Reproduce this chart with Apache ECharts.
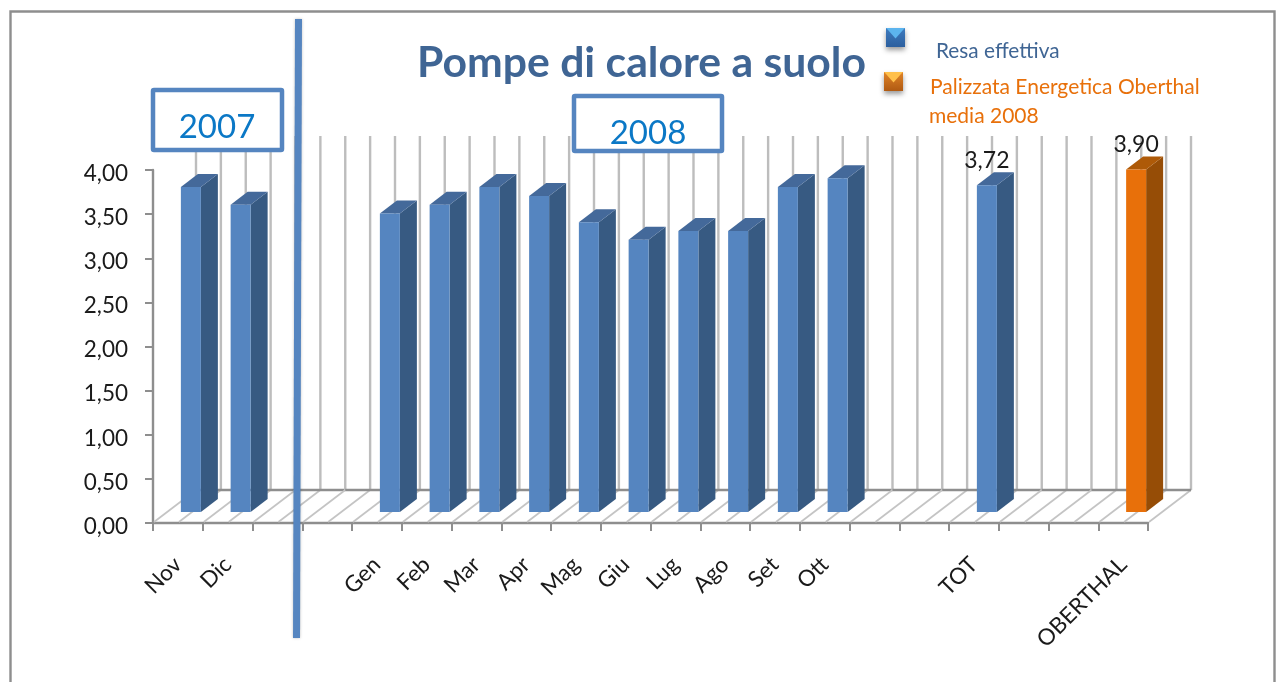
<!DOCTYPE html>
<html>
<head>
<meta charset="utf-8">
<style>html,body{margin:0;padding:0;background:#fff;overflow:hidden}#c{width:1276px;height:682px}</style>
<script src="https://cdn.jsdelivr.net/npm/echarts@6/dist/echarts.min.js"></script>
</head>
<body>
<div id="c"></div>
<script>
const categories = ['Nov','Dic','','','Gen','Feb','Mar','Apr','Mag','Giu','Lug','Ago','Set','Ott','','','TOT','','','OBERTHAL'];
const resaEffettiva = [3.70,3.50,null,null,3.40,3.50,3.70,3.60,3.30,3.10,3.20,3.20,3.70,3.80,null,null,3.72,null,null,null];
const palizzata = [null,null,null,null,null,null,null,null,null,null,null,null,null,null,null,null,null,null,null,3.90];
const labelled = {16:'3,72',19:'3,90'};
const yTicks = ['0,00','0,50','1,00','1,50','2,00','2,50','3,00','3,50','4,00'];
const FONT = 'Lato';
const FLOOR_DX = 43, FLOOR_DY = 33, BASE_DX = 13, BASE_DY = 11, DEPTH_DX = 17, DEPTH_DY = 13, BAR_W = 20, WALL_H = 354, SCALE = 0.995;
const WALL = '#BDBDBD', AXIS = '#8E8E8E';

function seg(x1,y1,x2,y2,color,w){return {type:'line',shape:{x1,y1,x2,y2},style:{stroke:color,lineWidth:w,fill:null},silent:true};}

function renderFurniture(params, api){
  const i = api.value(0);
  const c = api.coord([i,0]);
  const band = api.size([1,0])[0];
  const left = c[0]-band/2, y0 = c[1];
  const xs = [left, left+band/2];
  if(i===categories.length-1) xs.push(left+band);
  const ch=[];
  xs.forEach(x=>{
    ch.push(seg(x+FLOOR_DX,y0-FLOOR_DY,x+FLOOR_DX,y0-FLOOR_DY-WALL_H,WALL,2.4));
    ch.push(seg(x+1,y0-1,x+FLOOR_DX,y0-FLOOR_DY,'#C4C4C4',1.6));
  });
  ch.push(seg(left+FLOOR_DX,y0-FLOOR_DY,left+band+FLOOR_DX,y0-FLOOR_DY,AXIS,2.4));
  return {type:'group',children:ch};
}

function renderBar(colors){
  return function(params, api){
    const i = api.value(0), v = api.value(1);
    const c = api.coord([i,0]);
    const h = api.size([0,v])[1]*SCALE;
    const xl = c[0]+BASE_DX-BAR_W/2, xr = xl+BAR_W, yb = c[1]-BASE_DY, yt = yb-h;
    const poly=(pts,fill)=>({type:'polygon',shape:{points:pts},style:{fill}});
    const ch=[
      poly([[xr,yb],[xr,yt],[xr+DEPTH_DX,yt-DEPTH_DY],[xr+DEPTH_DX,yb-DEPTH_DY]],colors[1]),
      poly([[xl,yt],[xr,yt],[xr+DEPTH_DX,yt-DEPTH_DY],[xl+DEPTH_DX,yt-DEPTH_DY]],colors[2]),
      {type:'rect',shape:{x:xl,y:yt,width:BAR_W,height:h},style:{fill:colors[0]}}
    ];
    if(labelled[i]) ch.push({type:'text',style:{text:labelled[i],x:xl+BAR_W/2,y:yt-13,align:'center',verticalAlign:'bottom',font:'23px '+FONT,fill:'#1a1a1a'},z2:10});
    return {type:'group',children:ch};
  };
}

function toData(arr){const out=[];arr.forEach((v,i)=>{if(v!==null)out.push([i,v]);});return out;}

function box(x,y,w,h,label,tx,ty){
  return [
    {type:'rect',z:50,shape:{x,y,width:w,height:h,r:1},style:{fill:'#fff',stroke:'#5585C0',lineWidth:4.5}},
    {type:'text',z:51,style:{x:tx,y:ty,text:label,align:'center',verticalAlign:'middle',font:'33px '+FONT,fill:'#0B78C6'}}
  ];
}

function legendMark(x,y,s,dark,mid,light){
  return [
    {type:'rect',z:60,shape:{x,y,width:s,height:s},style:{fill:{type:'linear',x:0,y:0,x2:0,y2:1,colorStops:[{offset:0,color:mid},{offset:1,color:dark}]},shadowBlur:5,shadowColor:'rgba(0,0,0,.4)',shadowOffsetY:3}},
    {type:'polygon',z:61,shape:{points:[[x,y],[x+s,y],[x+s-2,y+2],[x+s/2,y+s*0.55],[x+2,y+2]]},style:{fill:light}}
  ];
}

const chart = echarts.init(document.getElementById('c'),null,{renderer:'canvas'});
chart.setOption({
  animation:false,
  backgroundColor:'#fff',
  grid:{left:153,top:170,width:995,height:353,containLabel:false},
  xAxis:{type:'category',data:categories,boundaryGap:true,
    axisLine:{lineStyle:{color:AXIS,width:2.4}},
    axisTick:{show:true,length:8,alignWithLabel:false,interval:0,lineStyle:{color:AXIS,width:2}},
    axisLabel:{interval:0,rotate:45,margin:38,fontFamily:FONT,fontSize:22.5,color:'#1a1a1a'},
    splitLine:{show:false}},
  yAxis:{type:'value',min:0,max:4,interval:0.5,
    axisLine:{show:true,lineStyle:{color:AXIS,width:2.4}},
    axisTick:{show:true,length:8,lineStyle:{color:AXIS,width:2}},
    axisLabel:{margin:25,verticalAlign:'top',lineHeight:7,fontFamily:FONT,fontSize:22.5,color:'#1a1a1a',formatter:(v)=>yTicks[Math.round(v/0.5)]},
    splitLine:{show:false}},
  series:[
    {type:'custom',name:'griglia',z:1,silent:true,renderItem:renderFurniture,data:categories.map((c,i)=>[i,0]),encode:{x:0,y:1},clip:false},
    {type:'custom',name:'Resa effettiva',z:3,renderItem:renderBar(['#5585C0','#375A82','#44699A']),data:toData(resaEffettiva),encode:{x:0,y:1},clip:false},
    {type:'custom',name:'Palizzata Energetica Oberthal media 2008',z:3,renderItem:renderBar(['#E8700A','#964D06','#AE5A08']),data:toData(palizzata),encode:{x:0,y:1},clip:false}
  ],
  graphic:[].concat(
    [{type:'rect',z:40,silent:true,shape:{x:10.5,y:11.5,width:1264,height:700},style:{fill:null,stroke:'#8E8E8E',lineWidth:2.4}}],
    box(153,90,129,60,'2007',217,127),
    box(574,96,148,55,'2008',648,133),
    [{type:'line',z:55,shape:{x1:298.5,y1:19,x2:296.5,y2:638},style:{stroke:'#5585C0',lineWidth:7,shadowBlur:3,shadowColor:'rgba(0,0,0,.25)'}}],
    [{type:'text',z:56,style:{x:641.5,y:63,text:'Pompe di calore a suolo',align:'center',verticalAlign:'middle',font:'bold 42.7px '+FONT,fill:'#3F6594'}}],
    legendMark(886,28,19,'#2C5F9E','#3E7BBF','#5CB4EE'),
    legendMark(884,72,19,'#B05A12','#E08428','#FFC04A'),
    [
      {type:'text',z:60,style:{x:936,y:51,text:'Resa effettiva',verticalAlign:'middle',font:'20.8px '+FONT,fill:'#3F6594'}},
      {type:'text',z:60,style:{x:930,y:87,text:'Palizzata Energetica Oberthal',verticalAlign:'middle',font:'21px '+FONT,fill:'#E8700A'}},
      {type:'text',z:60,style:{x:929,y:116,text:'media 2008',verticalAlign:'middle',font:'21px '+FONT,fill:'#E8700A'}}
    ]
  )
});
</script>
</body>
</html>
